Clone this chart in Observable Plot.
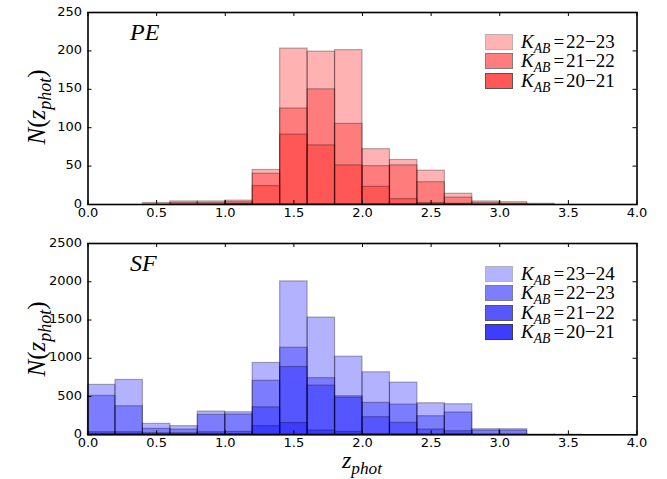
<!DOCTYPE html>
<html>
<head>
<meta charset="utf-8">
<script src="https://cdn.jsdelivr.net/npm/d3@7"></script>
<script src="https://cdn.jsdelivr.net/npm/@observablehq/plot@0.6"></script>
<style>
  body { margin: 0; background: #fff; }
  #fig { position: relative; width: 667px; height: 479px; font-family: "DejaVu Sans", sans-serif; }
  #fig svg { display: block; }
  .math { position: absolute; font-family: "Liberation Serif", serif; white-space: nowrap; color: #000; line-height: 1.1; }
  .ylab { font-size: 25px; transform: translate(-50%, -50%) rotate(-90deg); }
  .xlab { font-size: 24px; transform: translate(-50%, -50%); }
  .sub { font-size: 0.72em; position: relative; top: 0.36em; font-style: italic; }
  .legend { position: absolute; font-family: "Liberation Serif", serif; font-size: 19px; }
  .legend .row { display: flex; align-items: center; height: 19.5px; }
  .legend .sw { width: 28px; height: 16px; border: 1.3px solid #999; margin-right: 8px; box-sizing: border-box; }
  .legend .rel { margin: 0 2px 0 3px; }
</style>
</head>
<body>
<div id="fig"></div>
<script>
// Photometric-redshift histograms, bin edges every 0.2 in z_phot
const zEdges = [0.0, 0.2, 0.4, 0.6, 0.8, 1.0, 1.2, 1.4, 1.6, 1.8, 2.0,
                2.2, 2.4, 2.6, 2.8, 3.0, 3.2, 3.4, 3.6, 3.8, 4.0];
const xTicks = [0.0, 0.5, 1.0, 1.5, 2.0, 2.5, 3.0, 3.5, 4.0];

// Passive (PE) galaxies, counts per bin for each K_AB slice
const peLabels = ["22−23", "21−22", "20−21"];
const peK2223 = [0, 0, 2, 4, 4, 5, 45, 203, 199, 201, 72, 58, 44, 14, 4, 3, 1, 0, 0, 0];
const peK2122 = [0, 0, 0, 2, 2, 3, 40, 125, 150, 105, 50, 51, 29, 9, 2, 1, 0, 0, 0, 0];
const peK2021 = [0, 0, 0, 0, 0, 1, 24, 91, 77, 51, 23, 7, 2, 1, 0, 0, 0, 0, 0, 0];
const peTicks = [0, 50, 100, 150, 200, 250];

// Star-forming (SF) galaxies
const sfLabels = ["23−24", "22−23", "21−22", "20−21"];
const sfK2324 = [652, 717, 143, 113, 304, 295, 939, 2005, 1532, 1021, 817, 682, 412, 399, 73, 73, 4, 2, 0, 0];
const sfK2223 = [508, 373, 78, 69, 260, 265, 706, 1138, 741, 504, 417, 395, 243, 291, 56, 56, 0, 0, 0, 0];
const sfK2122 = [34, 34, 20, 20, 34, 38, 360, 886, 643, 485, 230, 156, 69, 47, 5, 5, 0, 0, 0, 0];
const sfK2021 = [10, 10, 5, 5, 10, 10, 113, 154, 56, 36, 10, 8, 5, 10, 0, 0, 0, 0, 0, 0];
const sfTicks = [0, 500, 1000, 1500, 2000, 2500];

const ALPHA = 0.3;

function toRows(series) {
  const rows = [];
  series.forEach((counts, s) => {
    counts.forEach((n, i) => {
      if (n > 0) rows.push({s, x1: zEdges[i], x2: zEdges[i + 1], n});
    });
  });
  return rows;
}

function panel({series, hue, yMax, yTicks, name, height, marginTop, marginBottom}) {
  const width = 667, marginLeft = 87.5, marginRight = 30.5;
  const fw = width - marginLeft - marginRight;
  const fh = height - marginTop - marginBottom;
  const T = 4; // inward tick length
  return Plot.plot({
    width, height, marginLeft, marginRight, marginTop, marginBottom,
    style: {fontFamily: "DejaVu Sans", fontSize: "13px", color: "#000", background: "transparent"},
    x: {domain: [0, 4]},
    y: {domain: [0, yMax]},
    marks: [
      // each K slice drawn as its own translucent histogram from zero; overlaps darken
      Plot.rect(toRows(series), {
        x1: "x1", x2: "x2", y1: 0, y2: "n",
        fill: hue, fillOpacity: ALPHA,
        stroke: "black", strokeOpacity: ALPHA, strokeWidth: 1.2
      }),
      Plot.tickX(xTicks, {x: d => d, insetTop: fh - T, stroke: "black", strokeWidth: 1}),
      Plot.tickX(xTicks, {x: d => d, insetBottom: fh - T, stroke: "black", strokeWidth: 1}),
      Plot.tickY(yTicks, {y: d => d, insetRight: fw - T, stroke: "black", strokeWidth: 1}),
      Plot.tickY(yTicks, {y: d => d, insetLeft: fw - T, stroke: "black", strokeWidth: 1}),
      Plot.axisX({ticks: xTicks, tickSize: 0, tickPadding: 3, tickFormat: d3.format(".1f"), label: null}),
      Plot.axisY({ticks: yTicks, tickSize: 0, tickPadding: 6, dy: -1, tickFormat: d => String(d), label: null}),
      Plot.frame({stroke: "black", strokeWidth: 1.6}),
      Plot.text([name], {
        text: d => d, frameAnchor: "top-left", textAnchor: "start", lineAnchor: "top",
        dx: 42, dy: 10, fontSize: 24, fontStyle: "italic", fontFamily: "Liberation Serif"
      })
    ]
  });
}

const fig = document.getElementById("fig");

fig.appendChild(panel({
  series: [peK2223, peK2122, peK2021], hue: "#ff0000",
  yMax: 250, yTicks: peTicks, name: "PE",
  height: 226, marginTop: 12, marginBottom: 22
}));
fig.appendChild(panel({
  series: [sfK2324, sfK2223, sfK2122, sfK2021], hue: "#0000ff",
  yMax: 2500, yTicks: sfTicks, name: "SF",
  height: 253, marginTop: 17, marginBottom: 44.7
}));

// blended swatch colours: k overlapping layers at ALPHA
function blend(rgb, k) {
  const a = 1 - Math.pow(1 - ALPHA, k);
  const c = rgb.map(v => Math.round(255 * (1 - a) + v * a));
  return `rgb(${c.join(",")})`;
}

function legend(labels, rgb, left, top) {
  const box = document.createElement("div");
  box.className = "legend";
  box.style.left = left + "px";
  box.style.top = top + "px";
  labels.forEach((lab, i) => {
    const row = document.createElement("div");
    row.className = "row";
    const sw = document.createElement("div");
    sw.className = "sw";
    sw.style.background = blend(rgb, i + 1);
    sw.style.borderColor = blend([0, 0, 0], i + 1);
    const t = document.createElement("span");
    t.innerHTML = `<i>K</i><span class="sub">AB</span><span class="rel">=</span>${lab}`;
    row.appendChild(sw);
    row.appendChild(t);
    box.appendChild(row);
  });
  fig.appendChild(box);
}
legend(peLabels, [255, 0, 0], 485, 32);
legend(sfLabels, [0, 0, 255], 485, 264);

function mathLabel(cls, x, y) {
  const d = document.createElement("div");
  d.className = "math " + cls;
  d.style.left = x + "px";
  d.style.top = y + "px";
  return d;
}
const yl1 = mathLabel("ylab", 37, 107);
yl1.innerHTML = `<i>N</i>(<i>z</i><span class="sub">phot</span>)`;
fig.appendChild(yl1);
const yl2 = mathLabel("ylab", 37, 339);
yl2.innerHTML = `<i>N</i>(<i>z</i><span class="sub">phot</span>)`;
fig.appendChild(yl2);
const xl = mathLabel("xlab", 362, 460);
xl.innerHTML = `<i>z</i><span class="sub">phot</span>`;
fig.appendChild(xl);
</script>
</body>
</html>
